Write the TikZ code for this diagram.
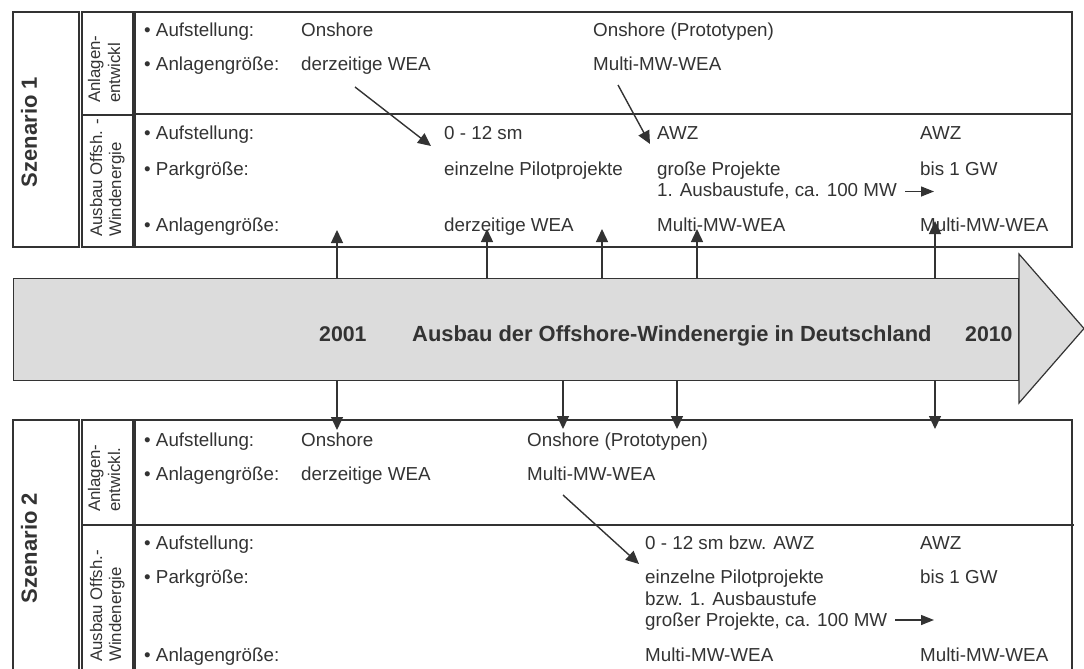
\documentclass[tikz,border=0pt]{standalone}
\usepackage{fontspec}
\setmainfont{Liberation Sans}
\usetikzlibrary{arrows.meta}
\definecolor{ink}{HTML}{333333}
\definecolor{band}{HTML}{DCDCDC}
\tikzset{
 txt/.style={anchor=west, inner sep=0pt, text height=13.5pt, text depth=0pt, font=\fontsize{18.8}{22}\selectfont, text=ink},
 boldtxt/.style={anchor=west, inner sep=0pt, text height=15.3pt, text depth=0pt, font=\fontsize{21.3}{25}\selectfont\bfseries, text=ink},
 box/.style={draw=ink, line width=1.5pt},
 arr/.style={draw=ink, line width=1.4pt, -{Triangle[length=13pt,width=12pt]}},
 sarr/.style={draw=ink, line width=1.4pt, -{Triangle[length=13pt,width=10pt]}},
 scen/.style={rotate=90, anchor=center, inner sep=0pt, text height=15.8pt, text depth=0pt, font=\fontsize{22}{26}\selectfont\bfseries, text=ink},
 side/.style={rotate=90, anchor=base west, inner sep=0pt, font=\fontsize{16.8}{19.5}\selectfont, text=ink},
}
\begin{document}
\begin{tikzpicture}[x=1pt,y=-1pt]
\useasboundingbox (0,0) rectangle (1084,669);
\clip (0,0) rectangle (1084,669);
% ---------- Scenario 1 panel ----------
\draw[box] (13,12) rectangle (79,247);
\draw[box] (82,12) rectangle (133,115);
\draw[box] (82,115) rectangle (133,247);
\draw[box] (135,12) rectangle (1072,247);
\draw[box] (135,114) -- (1073,114);
\node[scen] (s1) at (29,132) {Szenario 1};
\node[side] (s1a) at (100,103) {Anlagen-};
\node[side] (s1b) at (120,103) {entwickl};
\node[side] (s1c) at (102,237) {Ausbau Offsh. -};
\node[side] (s1d) at (121,237) {Windenergie};
% rows
\node[txt] (p1) at (144,30) {• Aufstellung:};
\node[txt] (p2) at (301,30) {Onshore};
\node[txt] (p3) at (593,30) {Onshore (Prototypen)};
\node[txt] (p4) at (144,63.5) {• Anlagengröße:};
\node[txt] (p5) at (301,63.5) {derzeitige WEA};
\node[txt] (p6) at (593,63.5) {Multi-MW-WEA};
\node[txt] (p7) at (144,133) {• Aufstellung:};
\node[txt] (p8) at (444,133) {0 - 12 sm};
\node[txt] (p9) at (657,133) {AWZ};
\node[txt] (p10) at (920,133) {AWZ};
\node[txt] (p11) at (144,169) {• Parkgröße:};
\node[txt] (p12) at (444,169) {einzelne Pilotprojekte};
\node[txt] (p13) at (657,169) {große Projekte};
\node[txt] (p14) at (920,169) {bis 1 GW};
\node[txt] (p15) at (657,190) {1. Ausbaustufe, ca. 100 MW};
\node[txt] (p16) at (144,225) {• Anlagengröße:};
\node[txt] (p17) at (444,225) {derzeitige WEA};
\node[txt] (p18) at (657,225) {Multi-MW-WEA};
\node[txt] (p19) at (920,225) {Multi-MW-WEA};
\coordinate (a1) at (934,191.5);
\draw[sarr] (905,191.5) -- (a1);
\coordinate (d1s) at (355,87);
\coordinate (d1e) at (431,146);
\draw[arr] (d1s) -- (d1e);
\coordinate (d2s) at (618,85);
\coordinate (d2e) at (650,144);
\draw[arr] (d2s) -- (d2e);
% ---------- Timeline ----------
\node[draw=ink, fill=band, line width=1.4pt, minimum width=1005pt, minimum height=102pt, inner sep=0pt, anchor=north west] (tl) at (13,278) {};
\draw[draw=ink, fill=band, line width=1.2pt] (1019,254) -- (1084,328.5) -- (1019,403) -- cycle;
\node[boldtxt] (y1) at (319,334) {2001};
\node[boldtxt, font=\fontsize{21.9}{25}\selectfont\bfseries] (y2) at (412,334) {Ausbau der Offshore-Windenergie in Deutschland};
\node[boldtxt] (y3) at (965,334) {2010};
% up arrows
\coordinate (u1) at (337,230);
\coordinate (u2) at (487,229);
\coordinate (u3) at (602,229);
\coordinate (u4) at (697,229);
\coordinate (u5) at (935,221);
\foreach \u in {u1,u2,u3,u4,u5} \draw[arr] (tl.north -| \u) -- (\u);
% down arrows
\coordinate (w1) at (337,430);
\coordinate (w2) at (563,429);
\coordinate (w3) at (677,429);
\coordinate (w4) at (935,429);
% ---------- Scenario 2 panel ----------
\draw[box] (13,420) rectangle (79,700);
\draw[box] (82,420) rectangle (133,525);
\draw[box] (82,525) rectangle (133,700);
\draw[box] (135,420) rectangle (1072,700);
\draw[box] (135,525) -- (1074,525);
\foreach \w in {w1,w2,w3,w4} \draw[arr] (tl.south -| \w) -- (\w);
\node[scen] (s2) at (29,548) {Szenario 2};
\node[side] (s2a) at (100,512) {Anlagen-};
\node[side] (s2b) at (120,512) {entwickl.};
\node[side] (s2c) at (102,662) {Ausbau Offsh.-};
\node[side] (s2d) at (121,662) {Windenergie};
\node[txt] (q1) at (144,440) {• Aufstellung:};
\node[txt] (q2) at (301,440) {Onshore};
\node[txt] (q3) at (527,440) {Onshore (Prototypen)};
\node[txt] (q4) at (144,474) {• Anlagengröße:};
\node[txt] (q5) at (301,474) {derzeitige WEA};
\node[txt] (q6) at (527,474) {Multi-MW-WEA};
\node[txt] (q7) at (144,543) {• Aufstellung:};
\node[txt] (q8) at (645,543) {0 - 12 sm bzw. AWZ};
\node[txt] (q9) at (920,543) {AWZ};
\node[txt] (q10) at (144,577) {• Parkgröße:};
\node[txt] (q11) at (645,577) {einzelne Pilotprojekte};
\node[txt] (q12) at (920,577) {bis 1 GW};
\node[txt] (q13) at (645,599) {bzw. 1. Ausbaustufe};
\node[txt] (q14) at (645,620) {großer Projekte, ca. 100 MW};
\node[txt] (q15) at (144,655) {• Anlagengröße:};
\node[txt] (q16) at (645,655) {Multi-MW-WEA};
\node[txt] (q17) at (920,655) {Multi-MW-WEA};
\coordinate (a2) at (934,620);
\draw[sarr] (895,620) -- (a2);
\coordinate (d3s) at (563,495);
\coordinate (d3e) at (639,564);
\draw[arr] (d3s) -- (d3e);
\end{tikzpicture}
\end{document}
